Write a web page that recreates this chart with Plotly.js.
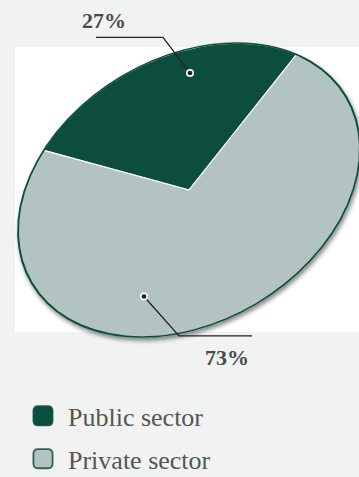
<!DOCTYPE html>
<html><head><meta charset="utf-8">
<script src="https://cdn.plot.ly/plotly-3.0.1.min.js"></script>
<style>html,body{margin:0;padding:0;background:#f1f3f2;}#chart{width:359px;height:477px;}</style>
</head><body><div id="chart"></div>
<script>
// ---- data ----
const categories = ['Public sector', 'Private sector'];
const shares = [27, 73];
const sliceColors = ['#0a4e3d', '#b3c3c2'];

// ---- layout helpers ----
const W = 359, H = 477, M = {l: 15, r: 0, t: 47, b: 133};
const pw = W - M.l - M.r, ph = H - M.t - M.b;
const px = x => (x - M.l) / pw;
const py = y => (H - M.b - y) / ph;

const EDGE = '#0b4d3c';
const INK = '#222222';
const E = {cx: 189, cy: 190, a: 182.7, b: 132.1, tilt: 30.7}; // tilted-disc look
const R = 100;
const domX = [px(E.cx - R), px(E.cx + R)], domY = [py(E.cy + R), py(E.cy - R)];

const total = shares.reduce((s, v) => s + v, 0);
const pct = shares.map(v => Math.round(100 * v / total) + '%');

const data = [
  {type: 'pie', labels: categories, values: shares, sort: false, direction: 'clockwise',
   rotation: -35, textinfo: 'none', hoverinfo: 'skip',
   marker: {colors: sliceColors, line: {color: 'rgba(255,255,255,0.85)', width: 0.8}},
   domain: {x: domX, y: domY}},
  {type: 'pie', labels: ['edge'], values: [1], sort: false, textinfo: 'none', hoverinfo: 'skip',
   showlegend: false, marker: {colors: ['rgba(0,0,0,0)'], line: {color: EDGE, width: 1.1}},
   domain: {x: domX, y: domY}}
];

// label leader geometry (px)
const leaders = [
  {dot: [190, 74], path: [[190, 74], [163, 37], [96, 37]], text: [103.5, 19]},
  {dot: [144, 307], path: [[144, 307], [179, 348], [252, 348]], text: [226.5, 371]}
];

const shapes = [
  {type: 'rect', xref: 'paper', yref: 'paper', x0: 0, x1: 1, y0: 0, y1: 1,
   fillcolor: '#ffffff', line: {width: 0}, layer: 'below'}
];
const annotations = [];
leaders.forEach((L, i) => {
  shapes.push({type: 'path', xref: 'paper', yref: 'paper', layer: 'above',
    path: 'M' + L.path.map(p => px(p[0]) + ',' + py(p[1])).join(' L'),
    line: {color: INK, width: 1.3}});
  const rr = 3.2;
  shapes.push({type: 'circle', xref: 'paper', yref: 'paper', layer: 'above',
    x0: px(L.dot[0] - rr), x1: px(L.dot[0] + rr), y0: py(L.dot[1] + rr), y1: py(L.dot[1] - rr),
    fillcolor: INK, line: {color: '#ffffff', width: 1.6}});
  annotations.push({xref: 'paper', yref: 'paper', x: px(L.text[0]), y: py(L.text[1]),
    text: '<b>' + pct[i] + '</b>', showarrow: false, xanchor: 'center', yanchor: 'middle',
    font: {family: 'Liberation Serif', size: 22, color: '#4a4a4a'}});
});

const layout = {
  width: W, height: H, margin: M,
  paper_bgcolor: '#f1f3f2', plot_bgcolor: '#ffffff',
  showlegend: true, hovermode: false,
  legend: {orientation: 'v', x: px(28), xanchor: 'left', y: py(407), yanchor: 'top',
    bgcolor: 'rgba(0,0,0,0)', font: {family: 'Liberation Serif', size: 26, color: '#555555'}},
  shapes: shapes, annotations: annotations
};

Plotly.newPlot('chart', data, layout, {staticPlot: true, displayModeBar: false}).then(gd => {
  const svg = gd.querySelector('.main-svg');
  const ns = 'http://www.w3.org/2000/svg';
  // drop shadow filter
  let defs = svg.querySelector('defs');
  const f = document.createElementNS(ns, 'filter');
  f.setAttribute('id', 'pieShadow');
  f.setAttribute('x', '-10%'); f.setAttribute('y', '-10%');
  f.setAttribute('width', '125%'); f.setAttribute('height', '125%');
  const ds = document.createElementNS(ns, 'feDropShadow');
  ds.setAttribute('dx', '1.5'); ds.setAttribute('dy', '3');
  ds.setAttribute('stdDeviation', '2.2');
  ds.setAttribute('flood-color', '#000'); ds.setAttribute('flood-opacity', '0.45');
  f.appendChild(ds); defs.appendChild(f);

  const cd0 = gd.calcdata[0][0];
  const cx = cd0.cx, cy = cd0.cy, r = cd0.r;
  const t = E.tilt * Math.PI / 180;
  const A11 = (E.a / r) * Math.cos(t), A21 = -(E.a / r) * Math.sin(t);
  const A12 = (E.b / r) * Math.sin(t), A22 = (E.b / r) * Math.cos(t);
  const e = E.cx - (A11 * cx + A12 * cy), fy = E.cy - (A21 * cx + A22 * cy);
  const layer = gd.querySelector('.pielayer');
  layer.setAttribute('filter', 'url(#pieShadow)');
  layer.querySelectorAll(':scope > g.trace').forEach(g => {
    const old = g.getAttribute('transform') || '';
    g.setAttribute('transform', 'matrix(' + [A11, A21, A12, A22, e, fy].join(' ') + ') ' + old);
  });

  // legend symbols: larger rounded squares with dark edge
  const rounded = 'M-6,-3 Q-6,-6 -3,-6 H3 Q6,-6 6,-3 V3 Q6,6 3,6 H-3 Q-6,6 -6,3 Z';
  gd.querySelectorAll('.legend .traces').forEach((tr, i) => {
    const p = tr.querySelector('path.legendpie');
    if (p) {
      p.setAttribute('d', rounded);
      p.setAttribute('transform', 'translate(15,0) scale(1.6)');
      p.style.stroke = EDGE; p.style.strokeWidth = '1.1px';
    }
    const m = /translate\(([-\d.]+),\s*([-\d.]+)\)/.exec(tr.getAttribute('transform') || '');
    if (m) tr.setAttribute('transform', 'translate(' + m[1] + ',' + (parseFloat(m[2]) + i * 6) + ')');
  });
});
</script></body></html>
